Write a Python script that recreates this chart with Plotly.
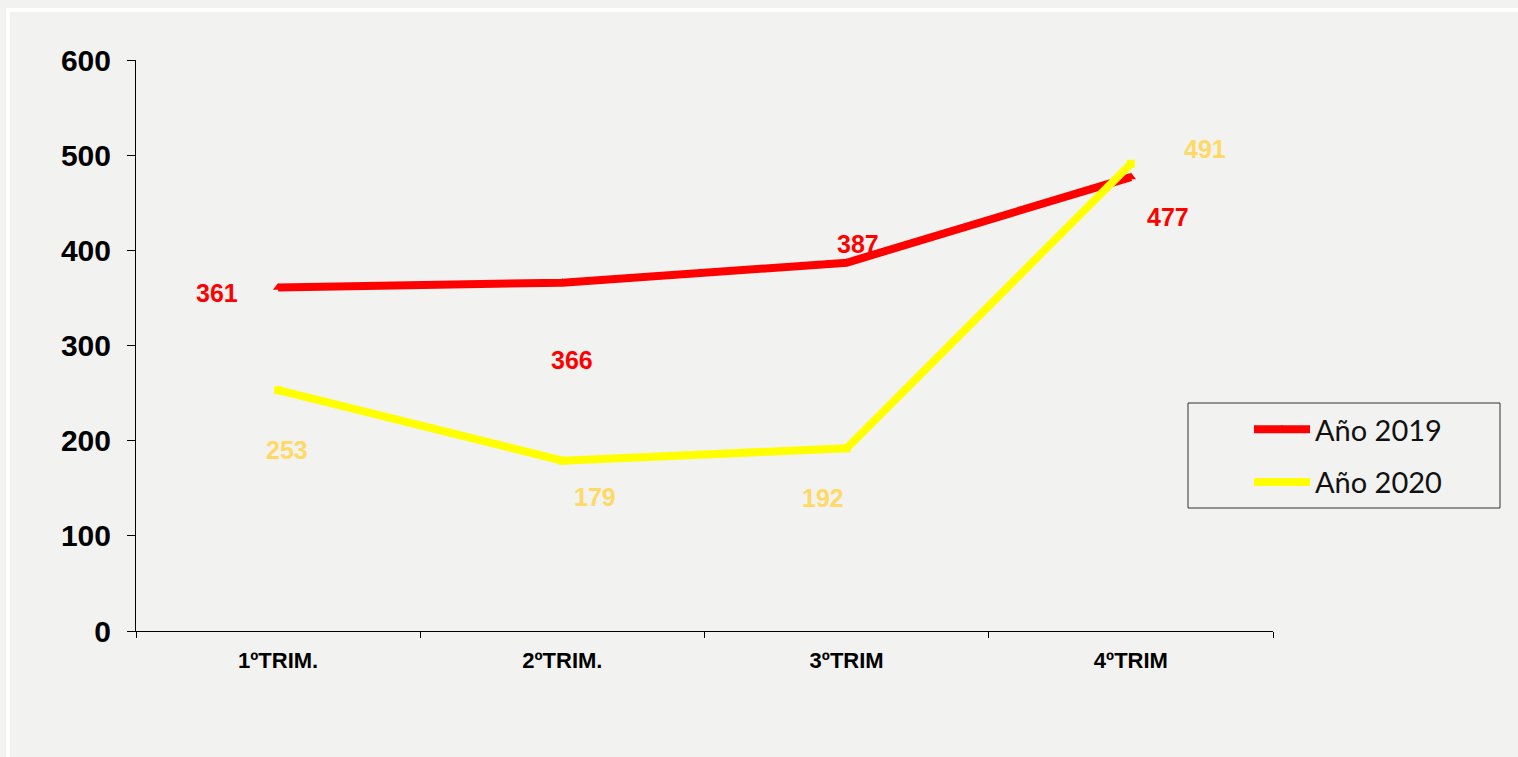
import plotly.graph_objects as go

categories = ["1ºTRIM.", "2ºTRIM.", "3ºTRIM", "4ºTRIM"]
values_2019 = [361, 366, 387, 477]
values_2020 = [253, 179, 192, 491]
y_ticks = [0, 100, 200, 300, 400, 500, 600]

# label offsets (pixels) for data labels
off_2019 = [(-61, -6), (10, -77), (11, 19), (37, -40)]
off_2020 = [(9, -60), (33, -36), (-24, -50), (74, 15)]

BG = "#F2F2F0"
RED = "#FF0000"
YEL = "#FFFF00"
LBL20 = "#FFD966"

fig = go.Figure()
fig.add_trace(go.Scatter(
    x=categories, y=values_2019, mode="lines+markers", name="Año 2019",
    line=dict(color=RED, width=8), marker=dict(symbol="triangle-up", size=9, color=RED),
    legendgroup="a"))
fig.add_trace(go.Scatter(
    x=categories, y=values_2020, mode="lines+markers", name="Año 2020",
    line=dict(color=YEL, width=8), marker=dict(symbol="square", size=8, color=YEL),
    legendgroup="b"))

for cat, v, (dx, dy) in zip(categories, values_2019, off_2019):
    fig.add_annotation(x=cat, y=v, text=str(v), showarrow=False, xshift=dx, yshift=dy,
                       font=dict(family="Liberation Sans, Arial", size=25, color=RED, weight="bold"))
for cat, v, (dx, dy) in zip(categories, values_2020, off_2020):
    fig.add_annotation(x=cat, y=v, text=str(v), showarrow=False, xshift=dx, yshift=dy,
                       font=dict(family="Liberation Sans, Arial", size=25, color=LBL20, weight="bold"))

L, R, T, B = 136, 1273, 60, 631
W, H = 1518, 757
def px(xp):
    return (xp - L) / (R - L)
def py(yp):
    return (B - yp) / (B - T)

# white frame
fig.add_shape(type="rect", xref="paper", yref="paper",
              x0=px(8), x1=px(1540), y0=py(10), y1=py(790),
              line=dict(color="white", width=4), fillcolor="rgba(0,0,0,0)", layer="below")
# legend box
fig.add_shape(type="rect", xref="paper", yref="paper",
              x0=px(1188), x1=px(1500), y0=py(403), y1=py(508),
              line=dict(color="#333333", width=1), fillcolor="rgba(0,0,0,0)")

fig.update_layout(
    width=W, height=H,
    margin=dict(l=L, r=W - R, t=T, b=H - B),
    paper_bgcolor=BG, plot_bgcolor=BG,
    showlegend=True,
    legend=dict(x=px(1249), y=py(404), xanchor="left", yanchor="top",
                font=dict(family="Lato, Noto Sans", size=29, color="#111111"),
                bgcolor="rgba(0,0,0,0)", borderwidth=0, tracegroupgap=12,
                itemwidth=56),
    xaxis=dict(type="category", range=[-0.5, 3.5], showgrid=False, zeroline=False,
               showline=True, linecolor="black", linewidth=1,
               ticks="outside", tickson="boundaries", ticklen=6, tickcolor="black",
               tickfont=dict(family="Liberation Sans, Arial", size=22, color="black", weight="bold"),
               ticklabelstandoff=10),
    yaxis=dict(range=[0, 600], tickvals=y_ticks, showgrid=False, zeroline=False,
               showline=True, linecolor="black", linewidth=1,
               ticks="outside", ticklen=8, tickcolor="black",
               tickfont=dict(family="Liberation Sans, Arial", size=30, color="black", weight="bold"),
               ticklabelstandoff=10),
)

fig.write_html("out.html", config={"displayModeBar": False},
               post_script="document.body.style.margin='0';document.body.style.background='#F2F2F0';")
